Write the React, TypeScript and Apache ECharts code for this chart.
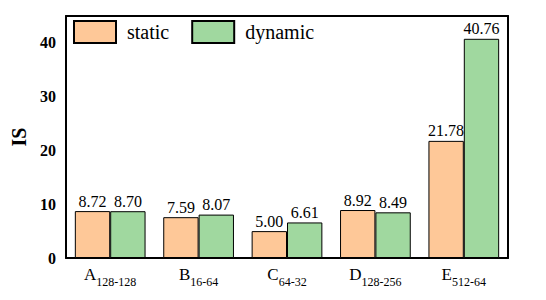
import React, { useEffect, useRef } from "react";
import * as echarts from "echarts";

const categories = ["A", "B", "C", "D", "E"];
const subscripts = ["128-128", "16-64", "64-32", "128-256", "512-64"];
const staticValues = [8.72, 7.59, 5.0, 8.92, 21.78];
const dynamicValues = [8.7, 8.07, 6.61, 8.49, 40.76];
const seriesNames = ["static", "dynamic"];

const FONT = "Liberation Serif";

export default function App() {
  const ref = useRef<HTMLDivElement>(null);
  useEffect(() => {
    const chart = echarts.init(ref.current!, null, { renderer: "svg" });
    const labelCfg = {
      show: true,
      position: "top" as const,
      distance: 2,
      fontFamily: FONT,
      fontSize: 16,
      color: "#000",
      formatter: (p: any) => Number(p.value).toFixed(2),
    };
    chart.setOption({
      animation: false,
      backgroundColor: "#fff",
      textStyle: { fontFamily: FONT },
      grid: { left: 66, right: 38, top: 16, bottom: 42, containLabel: false, show: false },
      legend: {
        left: 73,
        top: 20,
        icon: "rect",
        itemWidth: 42,
        itemHeight: 22,
        itemGap: 22,
        padding: 0,
        textStyle: { fontFamily: FONT, fontSize: 20, color: "#000", padding: [0, 0, 0, 6] },
        data: seriesNames,
      },
      xAxis: [
        {
          type: "category",
          data: categories,
          axisLine: { show: true, lineStyle: { color: "#000", width: 2 } },
          axisTick: { show: false },
          axisLabel: {
            interval: 0,
            margin: 8,
            formatter: (v: string, i: number) => `{main|${v}}{sub|${subscripts[i]}}`,
            rich: {
              main: { fontFamily: FONT, fontSize: 17, color: "#000", verticalAlign: "bottom" },
              sub: { fontFamily: FONT, fontSize: 12, color: "#000", verticalAlign: "bottom", padding: [0, 0, -5, 0] },
            },
          },
        },
        {
          type: "category",
          position: "top",
          data: categories,
          axisLine: { show: true, onZero: false, lineStyle: { color: "#000", width: 2 } },
          axisTick: { show: false },
          axisLabel: { show: false },
        },
      ],
      yAxis: [
        {
          type: "value",
          min: 0,
          max: 45,
          interval: 10,
          name: "IS",
          nameLocation: "middle",
          nameGap: 31,
          nameTextStyle: { fontFamily: FONT, fontSize: 20, fontWeight: "bold", color: "#000" },
          axisLine: { show: true, lineStyle: { color: "#000", width: 2 } },
          axisTick: { show: false },
          splitLine: { show: false },
          axisLabel: {
            fontFamily: FONT,
            fontSize: 16,
            fontWeight: "bold",
            color: "#000",
            margin: 10,
            showMaxLabel: false,
          },
        },
        {
          type: "value",
          min: 0,
          max: 45,
          position: "right",
          axisLine: { show: true, lineStyle: { color: "#000", width: 2 } },
          axisTick: { show: false },
          splitLine: { show: false },
          axisLabel: { show: false },
        },
      ],
      series: [
        {
          name: seriesNames[0],
          type: "bar",
          data: staticValues,
          barWidth: "40%",
          barGap: "0%",
          itemStyle: { color: "#FEC898", borderColor: "#000", borderWidth: 1 },
          label: labelCfg,
        },
        {
          name: seriesNames[1],
          type: "bar",
          data: dynamicValues,
          barWidth: "40%",
          barGap: "0%",
          itemStyle: { color: "#A0D89F", borderColor: "#000", borderWidth: 1 },
          label: labelCfg,
        },
      ],
    });
    return () => chart.dispose();
  }, []);
  return (
    <div
      ref={ref}
      style={{ position: "absolute", left: 0, top: 0, width: 546, height: 300 }}
    />
  );
}
